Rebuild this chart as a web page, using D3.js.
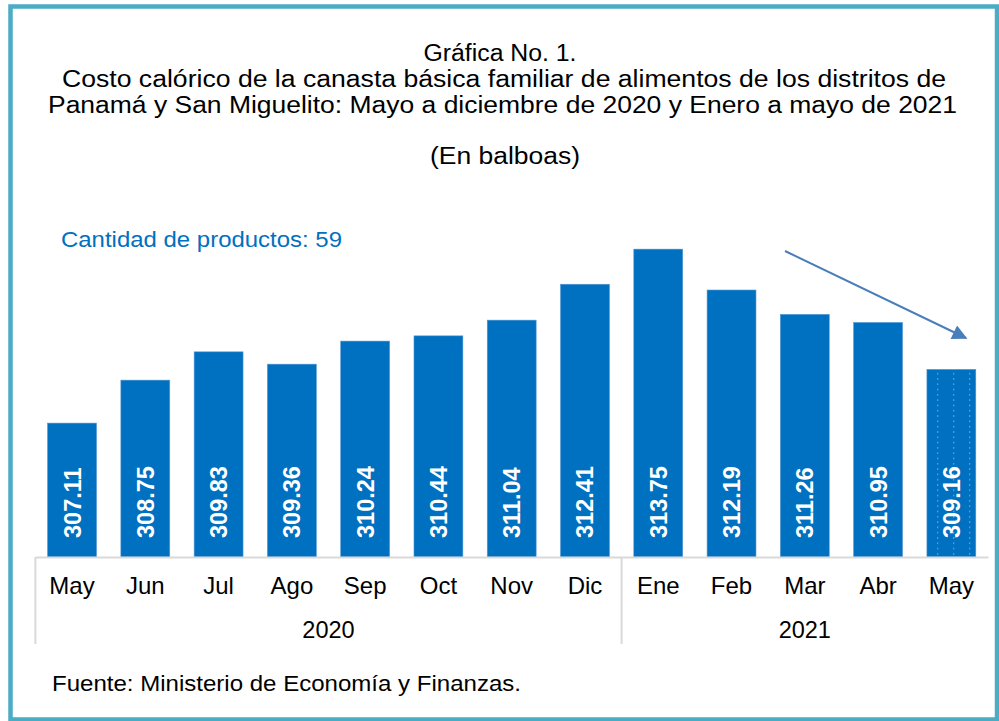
<!DOCTYPE html>
<meta charset="UTF-8">
<style>
    body { margin: 0; background: #fff; }
    text { font-family: "Liberation Sans", Arial, sans-serif; }
</style>
<body>
<div id="chart"></div>
<script src="https://d3js.org/d3.v7.min.js"></script>
<script>

// data
var months = ["May", "Jun", "Jul", "Ago", "Sep", "Oct", "Nov", "Dic", "Ene", "Feb", "Mar", "Abr", "May"];
var years = ["2020", "2020", "2020", "2020", "2020", "2020", "2020", "2020", "2021", "2021", "2021", "2021", "2021"];
var costs = [307.11, 308.75, 309.83, 309.36, 310.24, 310.44, 311.04, 312.41, 313.75, 312.19, 311.26, 310.95, 309.16];
var titleLines = [
    "Gráfica No. 1.",
    "Costo calórico de la canasta básica familiar de alimentos de los distritos de",
    "Panamá y San Miguelito: Mayo a diciembre de 2020 y Enero a mayo de 2021"
];
// widths of the title lines as printed
var titleWidths = [153, 884, 909];

var width = 999, height = 721;
var baseY = 557;

var svg = d3.select("#chart").append("svg")
    .attr("width", width)
    .attr("height", height);

var defs = svg.append("defs");

// dotted pattern for the last bar
var pat = defs.append("pattern")
    .attr("id", "dots")
    .attr("patternUnits", "userSpaceOnUse")
    .attr("x", 936)
    .attr("y", 371)
    .attr("width", 16)
    .attr("height", 5.3);
pat.append("rect").attr("width", 16).attr("height", 5.3).attr("fill", "#0070c0");
pat.append("rect").attr("x", 1).attr("y", 2).attr("width", 1.3).attr("height", 1.3).attr("fill", "#7eacd9");

// arrow head
defs.append("marker")
    .attr("id", "head")
    .attr("viewBox", "0 0 10 10")
    .attr("refX", 9).attr("refY", 5)
    .attr("markerWidth", 18).attr("markerHeight", 15)
    .attr("markerUnits", "userSpaceOnUse")
    .attr("orient", "auto")
  .append("path")
    .attr("d", "M0,0L10,5L0,10Z")
    .attr("fill", "#4a7ebb");

// frame
svg.append("rect")
    .attr("x", 10.5).attr("y", 6.5)
    .attr("width", 986.5).attr("height", 713)
    .attr("fill", "none")
    .attr("stroke", "#4bacc6")
    .attr("stroke-width", 4.5);

// title
svg.selectAll(".title")
    .data(titleLines)
  .enter().append("text")
    .attr("class", "title")
    .attr("x", function(d, i) { return [500, 504, 502.5][i]; })
    .attr("y", function(d, i) { return 61 + i * 26; })
    .attr("text-anchor", "middle")
    .attr("font-size", "23.5px")
    .attr("textLength", function(d, i) { return titleWidths[i]; })
    .attr("lengthAdjust", "spacingAndGlyphs")
    .attr("fill", "#000")
    .text(function(d) { return d; });

svg.append("text")
    .attr("x", 505).attr("y", 164)
    .attr("text-anchor", "middle")
    .attr("font-size", "23.5px")
    .attr("textLength", 150)
    .attr("lengthAdjust", "spacingAndGlyphs")
    .text("(En balboas)");

svg.append("text")
    .attr("x", 61).attr("y", 247)
    .attr("font-size", "22.5px")
    .attr("fill", "#0070c0")
    .attr("textLength", 281)
    .attr("lengthAdjust", "spacingAndGlyphs")
    .text("Cantidad de productos: 59");

// scales
var x = d3.scaleBand()
    .domain(d3.range(months.length))
    .range([35.4, 988])
    .paddingInner(0.333)
    .paddingOuter(0.1665);

var y = d3.scaleLinear()
    .domain([302, 315])
    .range([baseY, baseY - 13 * 26.2]);

// bars
svg.selectAll(".bar")
    .data(costs)
  .enter().append("rect")
    .attr("class", "bar")
    .attr("x", function(d, i) { return x(i); })
    .attr("width", x.bandwidth())
    .attr("y", function(d) { return y(d); })
    .attr("height", function(d) { return baseY - y(d); })
    .attr("fill", function(d, i) { return i === costs.length - 1 ? "url(#dots)" : "#0070c0"; })
    .attr("stroke", "#4f95d3")
    .attr("stroke-width", 0.6);

// values inside the bars
svg.selectAll(".val")
    .data(costs)
  .enter().append("text")
    .attr("class", "val")
    .attr("transform", function(d, i) {
        return "translate(" + (x(i) + x.bandwidth() / 2) + "," + (baseY - 19) + ") rotate(-90)";
    })
    .attr("dy", "0.36em")
    .attr("font-size", "23.5px")
    .attr("font-weight", "bold")
    .attr("fill", "#fff")
    .text(function(d) { return d.toFixed(2); });

// category axis
var axis = svg.append("g")
    .attr("transform", "translate(0," + baseY + ")")
    .call(d3.axisBottom(x).tickSize(0).tickPadding(0).tickFormat(function(i) { return months[i]; }));
axis.select(".domain").attr("stroke", "#d9d9d9").attr("stroke-width", 2);
axis.selectAll(".tick text")
    .attr("y", 37)
    .attr("dy", 0)
    .attr("font-family", "Liberation Sans, Arial, sans-serif")
    .attr("font-size", "24px")
    .attr("fill", "#000");

// year groups
var groups = d3.groups(d3.range(months.length), function(i) { return years[i]; });
var step = x.step();
var edges = groups.map(function(g) { return x(g[1][0]) - step * x.paddingInner() / 2; });
edges.forEach(function(e) {
    svg.append("line")
        .attr("x1", e).attr("x2", e)
        .attr("y1", baseY).attr("y2", 644)
        .attr("stroke", "#d9d9d9")
        .attr("stroke-width", 2);
});
groups.forEach(function(g) {
    var first = g[1][0], last = g[1][g[1].length - 1];
    var cx = (x(first) + x(last) + x.bandwidth()) / 2;
    svg.append("text")
        .attr("x", cx)
        .attr("y", 638)
        .attr("text-anchor", "middle")
        .attr("font-size", "23.5px")
        .text(g[0]);
});

// trend arrow
svg.append("line")
    .attr("x1", 785).attr("y1", 251)
    .attr("x2", 966).attr("y2", 338)
    .attr("stroke", "#4a7ebb")
    .attr("stroke-width", 2)
    .attr("marker-end", "url(#head)");

// source
svg.append("text")
    .attr("x", 52).attr("y", 691)
    .attr("font-size", "22px")
    .attr("textLength", 469)
    .attr("lengthAdjust", "spacingAndGlyphs")
    .text("Fuente: Ministerio de Economía y Finanzas.");

</script>
</body>
